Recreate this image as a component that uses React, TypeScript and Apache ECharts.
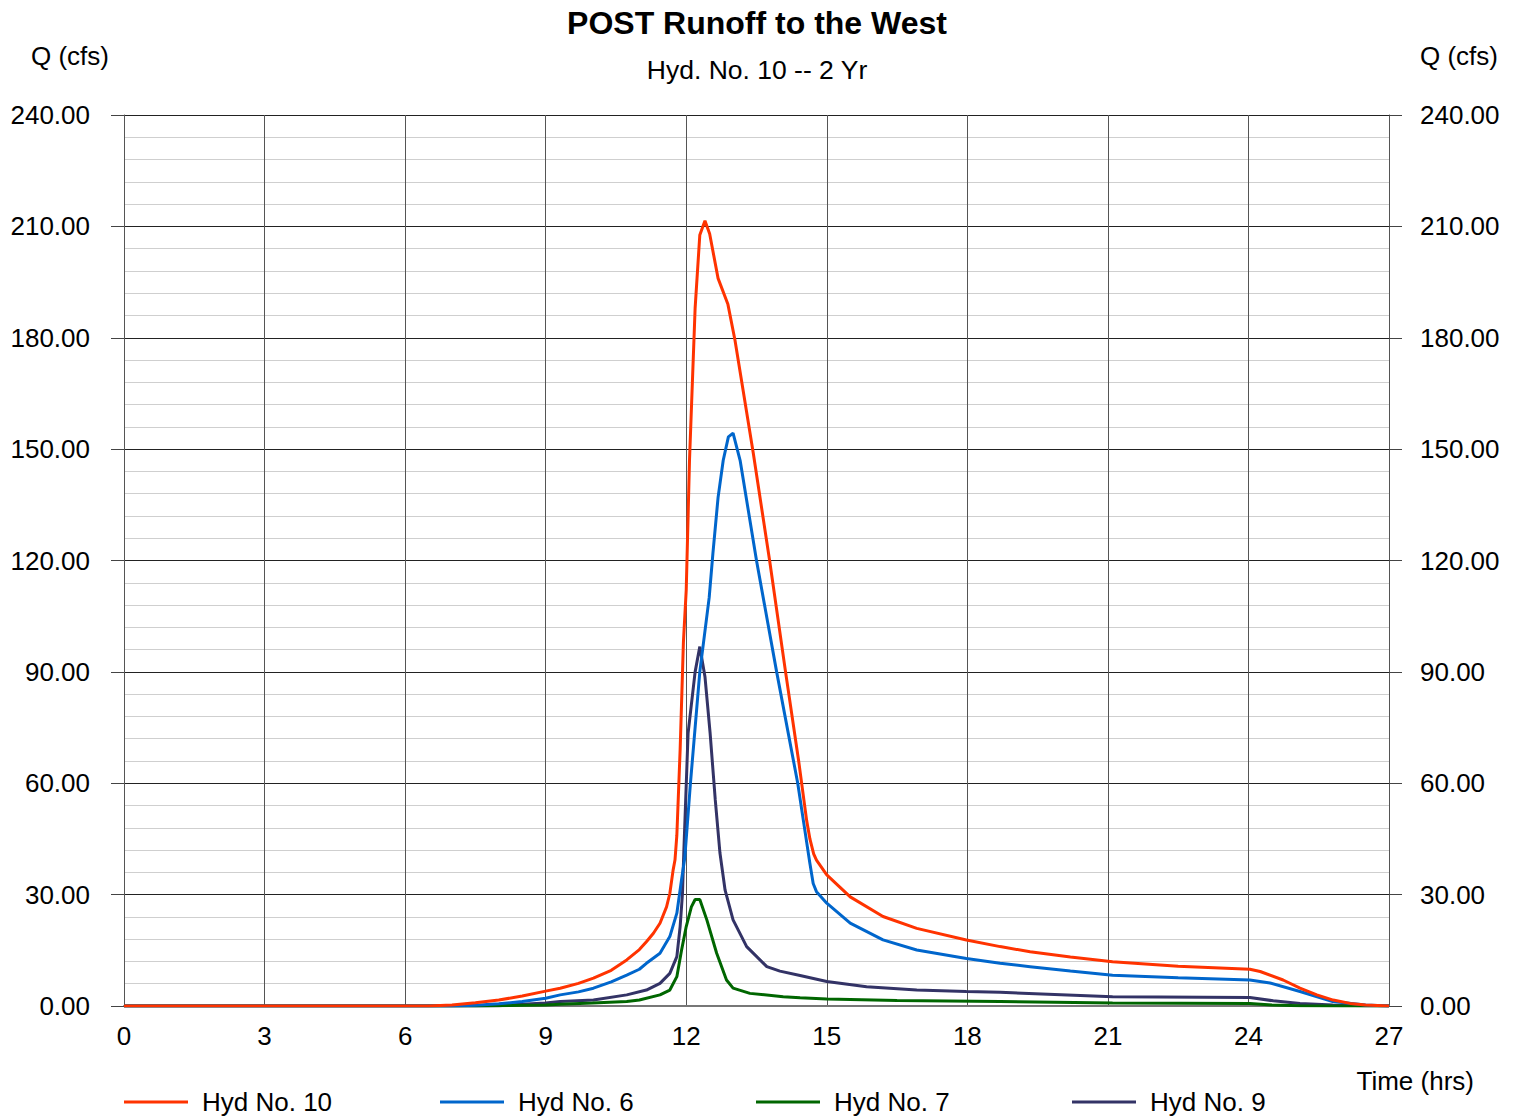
import React, { useEffect, useRef } from "react";
import * as echarts from "echarts";

const xTicks = [0, 3, 6, 9, 12, 15, 18, 21, 24, 27];
const yTickStep = 30;
const yMax = 240;

const seriesNames = ["Hyd No. 10", "Hyd No. 6", "Hyd No. 7", "Hyd No. 9"];
const seriesColors = ["#ff3300", "#0066cc", "#006600", "#333366"];

// [time (hrs), Q (cfs)]
const hyd10: number[][] = [
  [0, 0], [6.5, 0], [7.0, 0.3], [7.5, 0.9], [8.0, 1.6], [8.5, 2.7], [9.0, 4.0], [9.31, 4.8], [9.7, 6.1],
  [10.02, 7.5], [10.4, 9.6], [10.73, 12.4], [11.0, 15.2], [11.15, 17.3], [11.3, 19.6], [11.44, 22.3],
  [11.58, 26.7], [11.65, 30.3], [11.72, 36.6], [11.76, 39.3], [11.8, 46], [11.87, 69], [11.94, 98],
  [12.0, 112], [12.07, 147], [12.19, 188], [12.29, 207.7], [12.4, 211.5], [12.5, 208], [12.68, 196],
  [12.89, 189], [13.04, 179.4], [13.43, 149], [13.78, 120], [14.12, 90], [14.4, 66], [14.57, 50],
  [14.64, 45], [14.72, 41], [14.78, 39.3], [15.0, 35.3], [15.5, 29.4], [16.2, 24.1], [16.92, 20.9],
  [17.98, 17.8], [18.7, 16], [19.34, 14.6], [20.2, 13.2], [21.1, 11.9], [22.5, 10.7], [24.03, 9.9],
  [24.25, 9.3], [24.74, 7.0], [25.1, 4.8], [25.46, 3.0], [25.81, 1.6], [26.17, 0.7], [26.5, 0.3], [27, 0],
];
const hyd6: number[][] = [
  [0, 0], [7.0, 0], [7.5, 0.2], [8.0, 0.6], [8.5, 1.2], [9.0, 2.1], [9.31, 3.0], [9.7, 3.8], [10.02, 4.8],
  [10.4, 6.5], [10.73, 8.3], [11.0, 9.9], [11.15, 11.5], [11.44, 14.2], [11.65, 18.7], [11.8, 25],
  [11.9, 34], [11.97, 40], [12.09, 60], [12.29, 90], [12.49, 110], [12.57, 122], [12.68, 137],
  [12.79, 147], [12.9, 153.3], [13.0, 154.3], [13.15, 147], [13.5, 120], [13.93, 90], [14.38, 60],
  [14.5, 50], [14.64, 38.4], [14.71, 33], [14.78, 30.8], [15.0, 27.7], [15.5, 22.3], [16.2, 17.8],
  [16.92, 15.1], [17.98, 12.8], [18.7, 11.5], [19.34, 10.6], [20.2, 9.4], [21.1, 8.3], [22.5, 7.6],
  [24.03, 7.0], [24.46, 6.2], [25.1, 3.9], [25.8, 1.2], [26.5, 0.3], [27, 0],
];
const hyd7: number[][] = [
  [0, 0], [7.5, 0], [9.0, 0.3], [9.31, 0.5], [10.0, 0.8], [10.73, 1.2], [11.0, 1.6], [11.44, 3.0],
  [11.65, 4.3], [11.8, 7.9], [11.9, 15], [12.0, 21.4], [12.11, 26.7], [12.19, 28.7], [12.29, 28.7],
  [12.44, 23.2], [12.65, 14.2], [12.86, 7], [13.0, 4.8], [13.36, 3.4], [14.07, 2.5], [14.43, 2.2],
  [15.0, 1.9], [16.5, 1.5], [18.7, 1.2], [21.1, 0.8], [24.03, 0.7], [24.5, 0.3], [25.1, 0.1], [26, 0], [27, 0],
];
const hyd9: number[][] = [
  [0, 0], [7.5, 0], [8.0, 0.1], [9.0, 0.8], [9.31, 1.2], [10.02, 1.6], [10.73, 3.0], [11.15, 4.3],
  [11.44, 6.1], [11.65, 8.8], [11.8, 13.3], [11.87, 21.4], [11.92, 30.3], [11.95, 42], [12.04, 73.5],
  [12.19, 90], [12.29, 96.8], [12.4, 88.7], [12.51, 73.5], [12.62, 55.5], [12.72, 41.2], [12.83, 31.2],
  [13.0, 23.2], [13.29, 16], [13.72, 10.6], [14.0, 9.4], [14.43, 8.2], [15.0, 6.6], [15.85, 5.2],
  [16.92, 4.3], [17.98, 3.9], [18.7, 3.7], [21.1, 2.5], [24.03, 2.3], [24.53, 1.4], [25.1, 0.7],
  [25.8, 0.3], [26.5, 0.05], [27, 0],
];

const seriesData = [hyd10, hyd6, hyd7, hyd9];

const FONT = "Liberation Sans, Arial, Helvetica, sans-serif";

export default function App() {
  const ref = useRef<HTMLDivElement>(null);
  useEffect(() => {
    document.body.style.margin = "0";
    if (!ref.current) return;
    const chart = echarts.init(ref.current, undefined, { renderer: "svg" });
    const yAxisBase = {
      type: "value" as const,
      min: 0,
      max: yMax,
      interval: yTickStep,
      axisLine: { show: true, lineStyle: { color: "#555", width: 1 } },
      axisTick: { show: true, length: 13, inside: false, lineStyle: { color: "#444" } },
    };
    const labelStyle = { fontSize: 26, color: "#000", fontFamily: FONT };
    chart.setOption({
      animation: false,
      backgroundColor: "#fff",
      graphic: [
        {
          type: "text", x: 757, y: 23,
          style: { text: "POST Runoff to the West", fontSize: 32, fontWeight: "bold", fill: "#000", fontFamily: FONT, align: "center", verticalAlign: "middle" },
        },
        {
          type: "text", x: 757, y: 70,
          style: { text: "Hyd. No. 10 -- 2 Yr", fontSize: 26.5, fill: "#000", fontFamily: FONT, align: "center", verticalAlign: "middle" },
        },
        { type: "text", x: 31, y: 56, style: { text: "Q (cfs)", ...labelStyle, fill: "#000", align: "left", verticalAlign: "middle" } },
        { type: "text", x: 1498, y: 56, style: { text: "Q (cfs)", ...labelStyle, fill: "#000", align: "right", verticalAlign: "middle" } },
        { type: "text", x: 1474, y: 1081, style: { text: "Time (hrs)", ...labelStyle, fill: "#000", align: "right", verticalAlign: "middle" } },
      ],
      grid: { left: 124, right: 129, top: 115, bottom: 112, containLabel: false },
      xAxis: {
        type: "value",
        min: xTicks[0],
        max: xTicks[xTicks.length - 1],
        interval: 3,
        axisLine: { show: true, onZero: false, lineStyle: { color: "#777", width: 2 } },
        axisTick: { show: false },
        axisLabel: { ...labelStyle, margin: 17 },
        splitLine: { show: true, lineStyle: { color: "#555", width: 1 } },
      },
      yAxis: [
        {
          ...yAxisBase,
          position: "left",
          axisLabel: { ...labelStyle, margin: 34, formatter: (v: number) => v.toFixed(2) },
          splitLine: { show: true, lineStyle: { color: "#222", width: 1 } },
          minorTick: { show: false, splitNumber: 5 },
          minorSplitLine: { show: true, lineStyle: { color: "#cfcfcf", width: 1 } },
        },
        {
          ...yAxisBase,
          position: "right",
          axisLabel: { ...labelStyle, margin: 31, formatter: (v: number) => v.toFixed(2) },
          splitLine: { show: false },
        },
      ],
      legend: seriesNames.map((n, i) => ({
        data: [n],
        left: 119 + i * 316,
        top: 1084,
        icon: "rect",
        itemWidth: 64,
        itemHeight: 3,
        textStyle: { ...labelStyle, padding: [0, 0, 0, 9] },
      })),
      series: seriesNames.map((n, i) => ({
        name: n,
        type: "line",
        data: seriesData[i],
        showSymbol: false,
        symbol: "none",
        lineStyle: { color: seriesColors[i], width: 3 },
        itemStyle: { color: seriesColors[i] },
        z: 10 - i,
      })),
    });
    return () => chart.dispose();
  }, []);
  return <div ref={ref} style={{ width: 1518, height: 1118 }} />;
}
